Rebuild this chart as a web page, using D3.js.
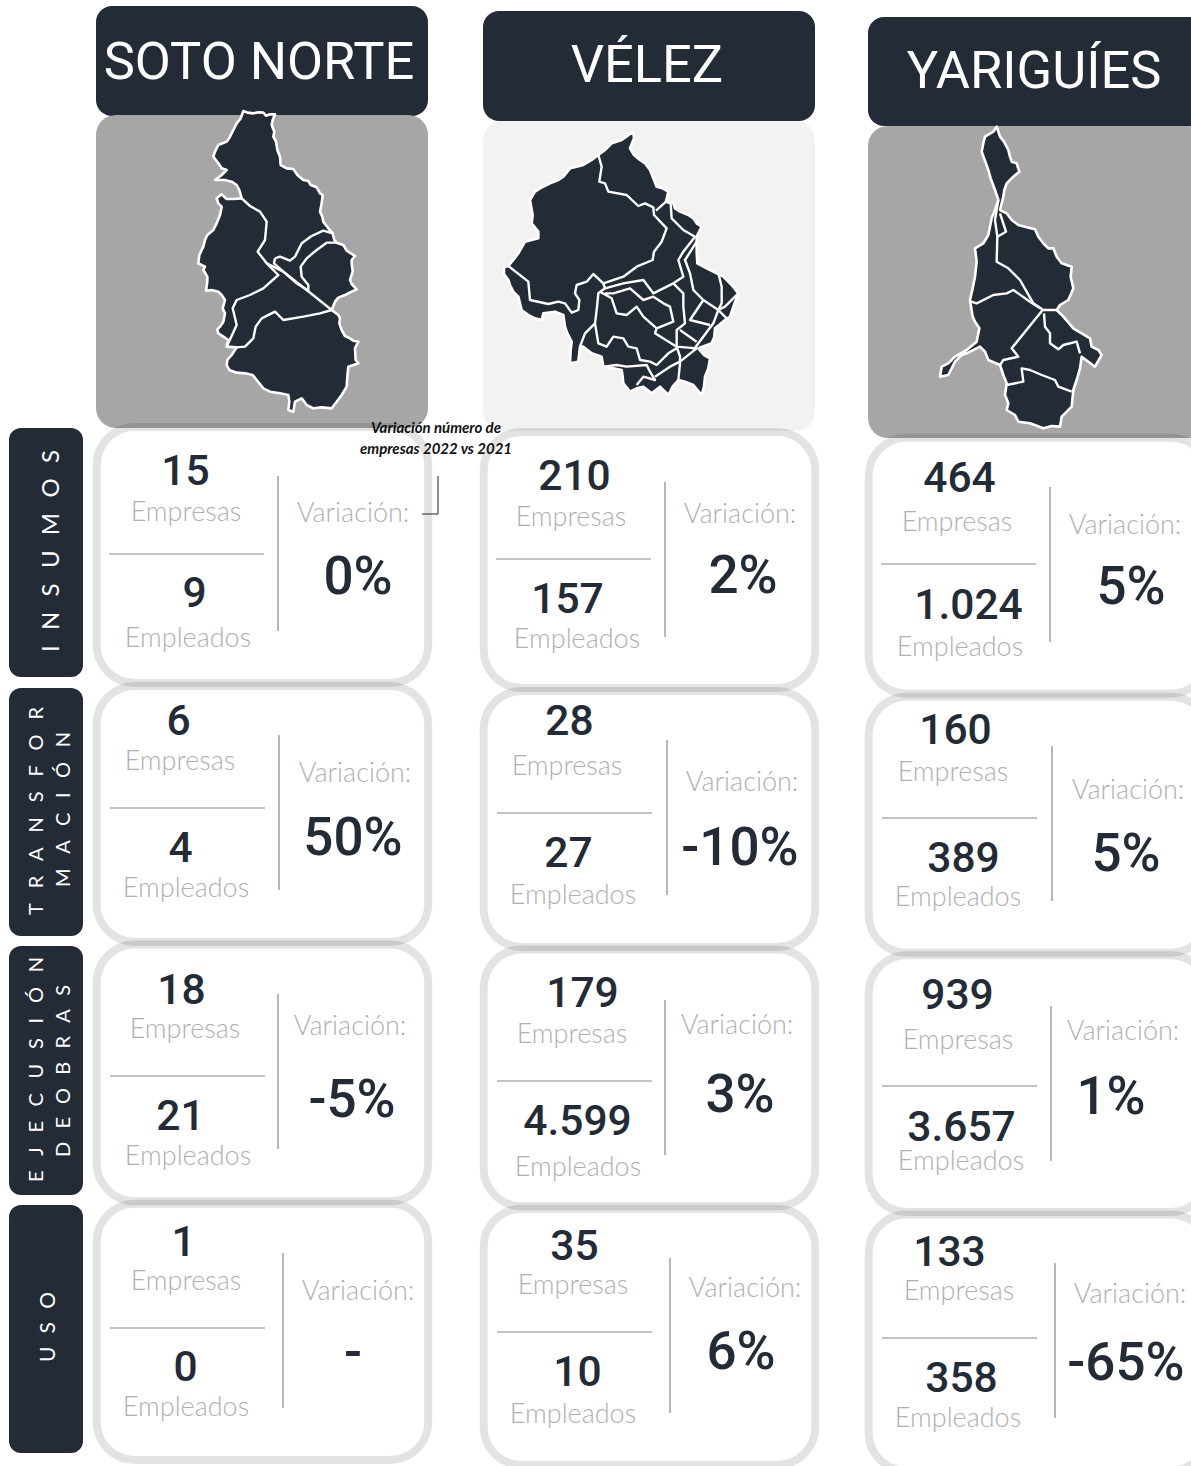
<!DOCTYPE html>
<html><head><meta charset="utf-8">
<script src="https://cdn.jsdelivr.net/npm/d3@7/dist/d3.min.js"></script>
<style>html,body{margin:0;padding:0;background:#fff;overflow:hidden}svg{display:block}</style>
</head><body><div id="c"></div>
<script>
// ---------- data ----------
const regions = ["SOTO NORTE","VÉLEZ","YARIGUÍES"];
const sectors = [["INSUMOS"],["TRANSFOR","MACIÓN"],["EJECUSIÓN","DEOBRAS"],["USO"]];
const empresas = [["15","6","18","1"],["210","28","179","35"],["464","160","939","133"]];
const empleados = [["9","4","21","0"],["157","27","4.599","10"],["1.024","389","3.657","358"]];
const variacion = [["0%","50%","-5%","-"],["2%","-10%","3%","6%"],["5%","5%","1%","-65%"]];
const labelEmp = "Empresas", labelEmpl = "Empleados", labelVar = "Variación:";
const note = ["Variación número de","empresas 2022 vs 2021"];

// map outlines, in units of the traced sheet
const mapOutline = [
 [[460,33],[472,38],[490,40],[505,37],[520,38],[528,47],[540,43],[555,43],[548,60],[545,75],[553,95],[550,110],[558,125],[562,150],[570,170],[572,195],[590,205],[610,207],[622,225],[640,240],[655,243],[662,255],[680,262],[690,280],[698,285],[695,310],[690,335],[697,350],[700,365],[715,385],[728,400],[733,420],[740,428],[760,435],[770,452],[795,468],[785,480],[785,490],[788,515],[780,540],[785,552],[800,568],[785,575],[765,585],[745,593],[735,605],[725,630],[745,645],[750,655],[748,670],[755,690],[765,708],[780,715],[790,722],[805,725],[795,745],[797,780],[805,790],[775,800],[772,830],[770,860],[755,885],[740,905],[725,925],[695,922],[670,925],[650,915],[635,895],[615,905],[610,935],[595,930],[598,905],[595,885],[570,880],[540,875],[520,865],[500,840],[488,825],[465,820],[440,818],[418,810],[410,795],[412,780],[425,765],[440,742],[410,740],[415,720],[400,710],[385,700],[382,688],[390,680],[400,665],[405,640],[398,625],[405,600],[395,585],[385,575],[365,570],[348,572],[352,545],[352,530],[340,510],[345,500],[325,490],[328,465],[340,440],[345,420],[352,405],[370,390],[380,370],[390,345],[395,320],[385,310],[380,295],[395,283],[410,297],[430,297],[455,295],[448,270],[440,255],[425,245],[405,240],[375,240],[395,225],[410,210],[395,205],[385,190],[370,170],[375,155],[385,135],[410,125],[420,110],[430,90],[440,70],[452,55]],
 [[460,35],[462,55],[450,85],[462,105],[480,120],[495,130],[510,150],[520,175],[530,200],[548,205],[565,215],[558,245],[580,250],[585,265],[600,275],[625,285],[640,295],[650,310],[665,320],[650,350],[650,395],[652,430],[680,445],[710,460],[730,470],[755,495],[775,520],[762,555],[750,590],[735,600],[705,625],[703,650],[695,670],[655,685],[672,705],[690,715],[685,745],[675,770],[672,800],[665,825],[640,795],[615,785],[595,780],[578,800],[565,825],[540,800],[515,820],[490,800],[470,805],[450,815],[430,790],[428,770],[425,750],[400,745],[370,740],[365,710],[335,700],[310,680],[300,680],[295,725],[270,730],[272,690],[275,665],[262,640],[255,620],[250,585],[225,575],[190,580],[185,600],[165,595],[145,585],[125,570],[115,530],[100,515],[90,495],[85,480],[72,462],[72,442],[85,438],[100,420],[115,400],[135,365],[175,355],[175,335],[155,310],[158,285],[150,240],[165,215],[180,205],[210,190],[235,180],[250,170],[270,145],[290,140],[310,135],[335,120],[355,105],[375,90],[395,70],[425,60]],
 [[410,20],[420,50],[432,65],[445,90],[450,110],[455,125],[470,130],[478,155],[460,170],[440,190],[433,210],[430,230],[425,250],[420,270],[440,280],[455,300],[475,315],[500,322],[525,328],[535,350],[550,370],[565,385],[580,385],[590,410],[605,430],[635,440],[632,470],[640,505],[625,540],[600,555],[590,570],[610,590],[640,625],[665,640],[690,655],[695,680],[715,690],[725,705],[705,740],[685,725],[665,710],[660,745],[650,780],[640,810],[635,860],[615,880],[605,890],[600,920],[575,918],[550,925],[510,910],[475,905],[465,885],[440,870],[445,850],[435,825],[440,790],[430,765],[420,735],[385,720],[375,695],[360,680],[320,700],[305,705],[285,725],[265,765],[240,770],[245,740],[265,730],[285,710],[320,690],[350,665],[358,625],[345,605],[338,590],[330,540],[338,505],[345,470],[350,425],[345,385],[370,370],[385,345],[395,295],[405,270],[415,240],[405,210],[392,175],[385,150],[365,95],[370,70],[375,50],[400,35]]
];
const mapBorders = [
 [
  [[455,295],[480,318],[510,335],[530,365],[525,420],[503,455],[530,490],[565,525],[520,565],[480,585],[440,600],[428,625],[440,675],[410,740]],
  [[530,490],[580,515],[650,570],[725,630]],
  [[555,475],[570,470],[600,482],[615,470],[635,430],[665,408],[700,392],[728,400]],
  [[555,475],[552,490],[620,550],[655,572]],
  [[740,428],[710,428],[680,450],[650,475],[632,500],[635,530],[655,555],[655,572]],
  [[440,742],[465,740],[490,715],[497,680],[515,655],[555,635],[580,660],[640,650],[690,640],[725,630]]
 ],
 [
  [[355,105],[365,140],[358,185],[375,190],[385,215],[440,225],[475,258],[495,250],[520,262],[522,285],[560,325],[545,365],[522,395],[518,420],[470,440],[430,470],[370,490],[340,462],[320,485],[290,495],[285,520],[298,540],[295,570],[275,578],[255,550],[235,545],[205,552],[150,540],[145,485],[85,438]],
  [[528,272],[558,245],[572,250],[575,295],[610,330],[645,350],[610,395],[595,420],[610,470],[580,490],[520,520],[490,480],[430,490],[375,505],[370,490]],
  [[650,365],[615,420],[630,460],[640,510],[670,540],[715,570],[740,595]],
  [[715,460],[725,500],[725,550],[715,570],[700,610],[640,690]],
  [[775,520],[735,560],[715,570]],
  [[670,540],[630,600],[690,615]],
  [[580,490],[610,520],[610,560],[615,610],[590,630],[590,680],[600,710],[600,730],[595,780]],
  [[375,505],[355,520],[350,570],[345,610],[315,640],[300,680]],
  [[345,610],[355,670],[380,680],[400,650],[430,655],[445,680],[470,685],[480,720],[510,725],[530,735],[565,700],[590,685]],
  [[360,515],[395,535],[410,580],[440,585],[470,560],[490,590],[530,625],[580,605],[570,560],[550,550],[520,530],[490,540],[450,505],[400,520],[375,520]],
  [[530,625],[525,640],[590,680],[650,685]],
  [[370,740],[410,735],[440,740],[500,735],[510,755],[525,780],[490,770],[470,795]],
  [[525,770],[570,740],[600,725],[650,685]],
  [[600,630],[650,665]]
 ],
 [
  [[420,280],[438,335],[412,350],[410,425],[445,445],[480,480],[520,550],[550,570],[590,570]],
  [[415,240],[405,300],[412,350]],
  [[333,545],[350,550],[400,525],[440,520],[460,510],[510,545],[540,565]],
  [[548,570],[455,685],[475,710],[430,720],[420,735]],
  [[552,580],[555,620],[570,640],[570,670],[595,688],[610,675],[650,665],[660,700]],
  [[440,795],[490,785],[485,745],[510,750],[545,765],[585,780],[595,800],[635,815]]
 ]
];

// ---------- layout ----------
const W=1191,H=1466, dark="#222b36";
const headerBox=[[96,6,332,110,259,79],[483,11,332,110,647,82],[868,17,340,109,1034,88]];
const panelBox=[[96,115,332,313,"#a6a6a6"],[483,121,332,310,"#f2f2f2"],[868,126,340,312,"#a6a6a6"]];
const mapOrigin=[[90,100],[480,120],[860,120]];
const cardX=[96.7,483.7,868.7], cardW=[331.5,331.5,340];
const cardY=[[427,683],[686,942],[944.5,1201.3],[1203.7,1460]];
const cardYOff=[0,5,10.7];
const sideBox=[[428,677],[688,936],[946,1195],[1205,1453]];
// side labels: per line baseline x, font size, y start, y end
const sideText=[[[59,24,450,652]],[[43,20,707,915],[70,20,732,887]],[[43,20,957,1182],[70,20,985,1157]],[[55,21,1292,1362]]];
// per cell: n1x,n1y, l1x,l1y, hx,hy, n2x,n2y, l2x,l2y, vx,vy, vlx,vly, px,py
const cells=[
 [[185,485,186,520,109,554,194,607,188,646,278,476,353,521,358,592],
  [178,735,180,769,110,808,180,862,186,896,279,735,355,781,353,853],
  [181,1004,185,1037,110,1076,180,1130,188,1164,278,994,350,1034,352,1115],
  [183,1256,186,1289,110,1328,185,1381,186,1415,283,1253,358,1299,353,1368]],
 [[574,490,571,525,496,559,567,613,577,647,665,482,740,522,743,591],
  [569,735,567,774,497,813,568,867,573,903,667,740,742,790,740,863],
  [582,1007,572,1042,497,1081,577,1135,578,1175,665,1000,737,1033,740,1110],
  [574,1260,573,1293,497,1332,577,1386,573,1422,670,1258,745,1296,741,1367]],
 [[959,492,957,530,881,564,968,619,960,655,1050,487,1125,533,1131,602],
  [955,744,953,780,882,818,963,872,958,905,1052,746,1128,798,1126,869],
  [957,1009,958,1048,882,1086,961,1141,961,1169,1051,1006,1123,1039,1111,1112],
  [949,1266,959,1299,882,1338,961,1392,958,1426,1055,1263,1130,1302,1126,1378]]
];

const svg=d3.select("#c").append("svg").attr("width",W).attr("height",H).attr("viewBox",`0 0 ${W} ${H}`);
const F={num:"Roboto, sans-serif",lab:"Lato, sans-serif",note:"Lato, sans-serif"};

function text(g,s,x,y,size,fill,family,weight,anchor="middle"){
  return g.append("text").attr("x",x).attr("y",y).attr("text-anchor",anchor)
   .attr("font-family",family).attr("font-size",size).attr("font-weight",weight).attr("fill",fill).text(s);
}

// map panels and headers
regions.forEach((r,i)=>{
  const g=svg.append("g");
  const h=headerBox[i], p=panelBox[i];
  g.append("rect").attr("x",h[0]).attr("y",h[1]).attr("width",h[2]).attr("height",h[3]).attr("rx",16).attr("fill",dark);
  g.append("rect").attr("x",p[0]).attr("y",p[1]).attr("width",p[2]).attr("height",p[3]).attr("rx",20).attr("fill",p[4]);
  text(g,r,h[4],h[5],52.4,"#fff",F.num,400);
  const sx=d3.scaleLinear().domain([0,3]).range([mapOrigin[i][0],mapOrigin[i][0]+1]);
  const sy=d3.scaleLinear().domain([0,3]).range([mapOrigin[i][1],mapOrigin[i][1]+1]);
  const line=d3.line().x(d=>sx(d[0])).y(d=>sy(d[1]));
  g.append("path").attr("d",line(mapOutline[i])+"Z").attr("fill",dark).attr("stroke","#fff").attr("stroke-width",2.6).attr("stroke-linejoin","round");
  g.selectAll("path.b").data(mapBorders[i]).join("path").attr("class","b").attr("d",line).attr("fill","none").attr("stroke","#fff").attr("stroke-width",2.4).attr("stroke-linejoin","round");
});

// side labels
sectors.forEach((s,i)=>{
  const g=svg.append("g");
  const [y0,y1]=sideBox[i];
  g.append("rect").attr("x",9).attr("y",y0).attr("width",74).attr("height",y1-y0).attr("rx",12).attr("fill",dark);
  s.forEach((t,k)=>{
    const q=sideText[i][k];
    g.append("text").attr("transform",`translate(${q[0]},${q[3]}) rotate(-90)`).attr("text-anchor","start")
     .attr("font-family",F.lab).attr("font-size",q[1]).attr("fill","#fff")
     .attr("textLength",q[3]-q[2]).attr("lengthAdjust","spacing").text(t);
  });
});

// cards: white interiors first, then translucent rims that darken where they overlap
const rimW=8;
const cardRects=regions.flatMap((r,c)=>sectors.map((s,i)=>({x:cardX[c],w:cardW[c],y:cardY[i][0]+cardYOff[c],h:cardY[i][1]-cardY[i][0]})));
svg.append("g").selectAll("rect").data(cardRects).join("rect")
  .attr("x",d=>d.x+rimW/2).attr("y",d=>d.y+rimW/2).attr("width",d=>d.w-rimW).attr("height",d=>d.h-rimW).attr("rx",34).attr("fill","#fff");
svg.append("g").selectAll("rect").data(cardRects).join("rect")
  .attr("x",d=>d.x).attr("y",d=>d.y).attr("width",d=>d.w).attr("height",d=>d.h).attr("rx",38)
  .attr("fill","none").attr("stroke","#000").attr("stroke-opacity",0.11).attr("stroke-width",rimW);

regions.forEach((r,c)=>{
  sectors.forEach((s,i)=>{
    const g=svg.append("g");
    const a=cells[c][i];
    text(g,empresas[c][i],a[0]+0.5,a[1],42.5,dark,F.num,500);
    text(g,labelEmp,a[2],a[3]+0.5,27,"#b0b0b0",F.lab,300);
    g.append("line").attr("x1",a[4]).attr("x2",a[4]+155).attr("y1",a[5]).attr("y2",a[5]).attr("stroke","#888").attr("stroke-width",1);
    text(g,empleados[c][i],a[6]+0.5,a[7],42.5,dark,F.num,500);
    text(g,labelEmpl,a[8],a[9]+0.5,27,"#b0b0b0",F.lab,300);
    g.append("line").attr("x1",a[10]).attr("x2",a[10]).attr("y1",a[11]).attr("y2",a[11]+155).attr("stroke","#888").attr("stroke-width",1.2);
    text(g,labelVar,a[12],a[13]+0.5,27,"#b0b0b0",F.lab,300);
    text(g,variacion[c][i],a[14],a[15]+1.5,53,dark,F.num,500);
  });
});

// annotation
const ga=svg.append("g");
text(ga,note[0],436,433,15,"#111",F.note,700).attr("font-style","italic");
text(ga,note[1],436,454,15,"#111",F.note,700).attr("font-style","italic");
ga.append("path").attr("d",d3.line()([[438,476],[438,514],[422,514]])).attr("fill","none").attr("stroke","#222").attr("stroke-width",1);
</script></body></html>
